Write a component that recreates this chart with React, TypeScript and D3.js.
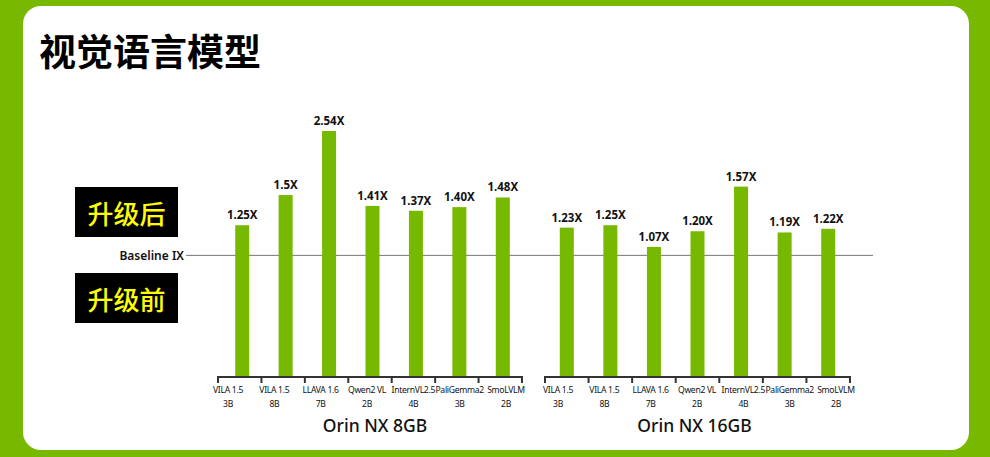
import React from "react";
import * as d3 from "d3";

const categories = ["VILA 1.5|3B", "VILA 1.5|8B", "LLAVA 1.6|7B", "Qwen2 VL|2B", "InternVL2.5|4B", "PaliGemma2|3B", "SmoLVLM|2B"];
const groupNames = ["Orin NX 8GB", "Orin NX 16GB"];
const valuesNX8 = [1.25, 1.5, 2.54, 1.41, 1.37, 1.4, 1.48];
const valuesNX16 = [1.23, 1.25, 1.07, 1.2, 1.57, 1.19, 1.22];
const valueLabelsNX8 = ["1.25X", "1.5X", "2.54X", "1.41X", "1.37X", "1.40X", "1.48X"];
const valueLabelsNX16 = ["1.23X", "1.25X", "1.07X", "1.20X", "1.57X", "1.19X", "1.22X"];
const baselineValue = 1;

const W = 990, H = 457;
const GREEN = "#76b900";
const FONT = "'Noto Sans', 'Noto Sans CJK SC', sans-serif";
const CJK = "'Noto Sans CJK SC', sans-serif";

export default function App() {
  const y = d3.scaleLinear().domain([0, 1.6, 2.54]).range([376, 183, 131]);
  const groups = [
    { name: groupNames[0], values: valuesNX8, labels: valueLabelsNX8, band: [218, 522], lab: [228, 506], shift: 2.5, titleShift: 5 },
    { name: groupNames[1], values: valuesNX16, labels: valueLabelsNX16, band: [545, 850], lab: [558, 836], shift: 0, titleShift: -3 },
  ];
  const yb = y(baselineValue);
  return (
    <svg width={W} height={H} style={{ position: "absolute", left: 0, top: 0 }} fontFamily={FONT}>
      <rect x={0} y={0} width={W} height={H} fill={GREEN} />
      <rect x={23} y={6} width={946} height={444} rx={18} fill="#fff" />
      <text x={39} y={66} fontSize={37} fontWeight={700} fontFamily={CJK} fill="#000">视觉语言模型</text>

      <rect x={75} y={187} width={103} height={50} fill="#000" />
      <text x={126.5} y={212} fontSize={26} fontWeight={500} fill="#ffff00" textAnchor="middle" dominantBaseline="central" fontFamily={CJK}>升级后</text>
      <rect x={75} y={273} width={103} height={50} fill="#000" />
      <text x={126.5} y={298} fontSize={26} fontWeight={500} fill="#ffff00" textAnchor="middle" dominantBaseline="central" fontFamily={CJK}>升级前</text>

      <line x1={186} x2={873} y1={yb} y2={yb} stroke="#777" strokeWidth={1} />
      <text x={184} y={yb} fontSize={12} fontWeight={600} textAnchor="end" dominantBaseline="central" fill="#111">Baseline IX</text>

      {groups.map((g, gi) => {
        const x = d3.scaleBand<string>().domain(categories).range(g.band as [number, number]).paddingInner(0).paddingOuter(0);
        const xl = d3.scalePoint<string>().domain(categories).range(g.lab as [number, number]);
        const bw = 14;
        return (
          <g key={gi}>
            {categories.map((c, i) => {
              const cx = (x(c) as number) + x.bandwidth() / 2 + g.shift;
              const top = y(g.values[i]);
              return (
                <g key={c}>
                  <rect x={cx - bw / 2} y={top} width={bw} height={y(0) - top} fill={GREEN} />
                  <text x={cx} y={top - 6} fontSize={11.5} fontWeight={700} textAnchor="middle" fill="#111">{g.labels[i]}</text>
                </g>
              );
            })}
            <line x1={g.band[0]} x2={g.band[1]} y1={377} y2={377} stroke="#333" strokeWidth={2} />
            {[...categories.map((c) => x(c) as number), g.band[1]].map((tx, i) => (
              <line key={i} x1={tx} x2={tx} y1={376} y2={383} stroke="#333" strokeWidth={2} />
            ))}
            {categories.map((c) => {
              const [l1, l2] = c.split("|");
              const lx = xl(c) as number;
              return (
                <text key={c} x={lx} fontSize={8.6} letterSpacing={-0.3} textAnchor="middle" fill="#111">
                  <tspan x={lx} y={393}>{l1}</tspan>
                  <tspan x={lx} y={407}>{l2}</tspan>
                </text>
              );
            })}
            <text x={(g.band[0] + g.band[1]) / 2 + g.titleShift} y={432} fontSize={17.5} fontWeight={500} textAnchor="middle" fill="#111">{g.name}</text>
          </g>
        );
      })}
    </svg>
  );
}
